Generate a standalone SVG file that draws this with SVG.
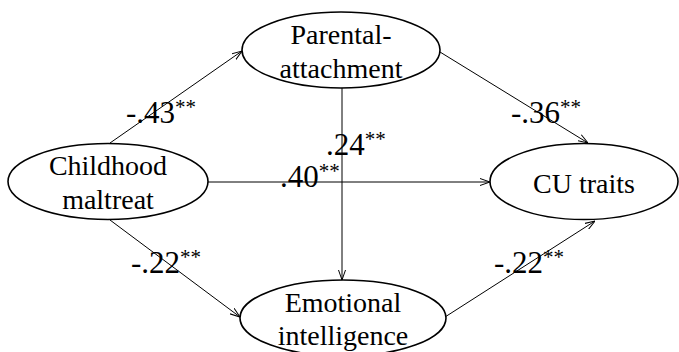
<svg xmlns="http://www.w3.org/2000/svg" width="679" height="352" viewBox="0 0 679 352">
<style>
text{font-family:"Liberation Serif","Times New Roman",serif;fill:#000}
.node ellipse{fill:#fff;stroke:#000;stroke-width:1.6}
.node text{font-size:28px;text-anchor:middle}
.edges line{stroke:#000;stroke-width:1;marker-end:url(#arr)}
.lbl{font-size:31px}
.sup{font-size:21px}
</style>
<defs>
<marker id="arr" viewBox="0 0 10 8" refX="10" refY="4" markerWidth="10" markerHeight="8" markerUnits="userSpaceOnUse" orient="auto">
<path d="M0,0.5 L10,4 L0,7.5" fill="none" stroke="#000" stroke-width="1"/>
</marker>
</defs>
<rect width="679" height="352" fill="#fff"/>
<g class="edges">
<line x1="110" y1="143" x2="242" y2="51"/>
<line x1="440" y1="52" x2="588" y2="143"/>
<line x1="207" y1="182" x2="490" y2="182"/>
<line x1="342" y1="88" x2="342" y2="280"/>
<line x1="110" y1="220" x2="240" y2="317"/>
<line x1="445" y1="317" x2="595" y2="221"/>
</g>
<g id="parental" class="node">
<ellipse cx="341" cy="50" rx="99" ry="38"/>
<text x="341" y="44">Parental-</text>
<text x="341" y="78">attachment</text>
</g>
<g id="childhood" class="node">
<ellipse cx="108" cy="181.5" rx="100" ry="38"/>
<text x="108" y="175">Childhood</text>
<text x="108" y="209">maltreat</text>
</g>
<g id="cu" class="node">
<ellipse cx="584" cy="181.5" rx="94" ry="38"/>
<text x="584" y="193">CU traits</text>
</g>
<g id="emotional" class="node">
<ellipse cx="343" cy="318" rx="103" ry="38"/>
<text x="343" y="312">Emotional</text>
<text x="343" y="345">intelligence</text>
</g>
<g id="labels">
<text class="lbl" x="126" y="123">-.43<tspan class="sup" dy="-9">**</tspan></text>
<text class="lbl" x="326" y="155">.24<tspan class="sup" dy="-9">**</tspan></text>
<text class="lbl" x="280" y="187">.40<tspan class="sup" dy="-9">**</tspan></text>
<text class="lbl" x="511" y="123">-.36<tspan class="sup" dy="-9">**</tspan></text>
<text class="lbl" x="131" y="273">-.22<tspan class="sup" dy="-9">**</tspan></text>
<text class="lbl" x="494" y="273">-.22<tspan class="sup" dy="-9">**</tspan></text>
</g>
</svg>
